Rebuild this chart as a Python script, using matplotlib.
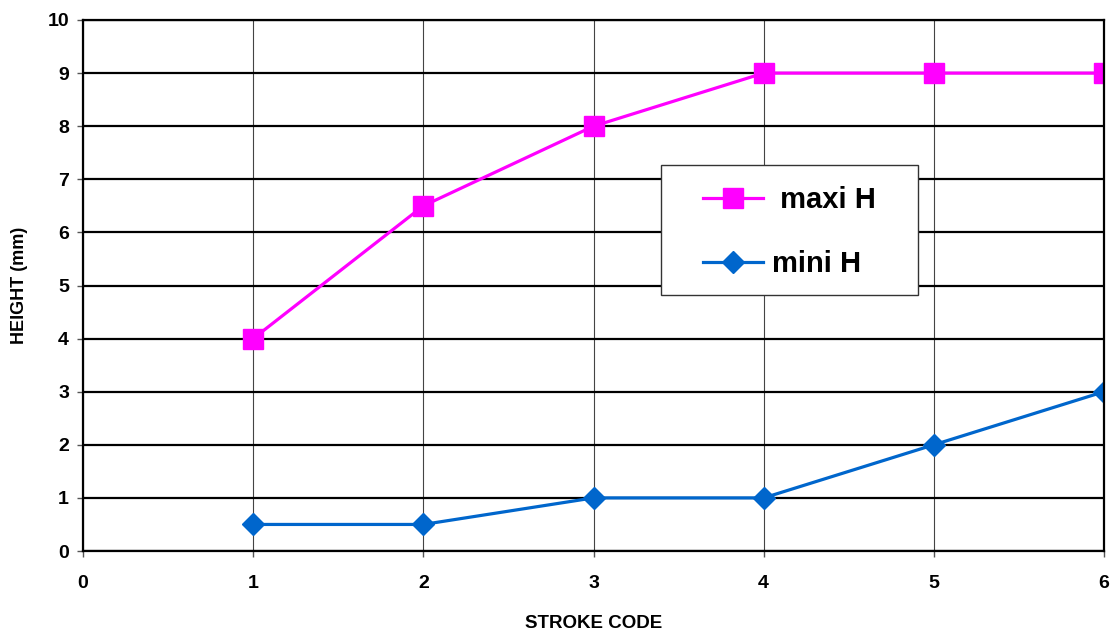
import matplotlib
matplotlib.use("Agg")
import matplotlib.pyplot as plt
from matplotlib.patches import Rectangle

plt.rcParams['font.family'] = ['Liberation Sans', 'DejaVu Sans']

stroke_code = [1, 2, 3, 4, 5, 6]
maxi_h = [4, 6.5, 8, 9, 9, 9]
mini_h = [0.5, 0.5, 1, 1, 2, 3]

W, H = 1112, 634
L, R, T, B = 83, 1104, 20, 551   # plot area in pixels

fig = plt.figure(figsize=(W / 100, H / 100), dpi=100)
ax = fig.add_axes([L / W, 1 - B / H, (R - L) / W, (B - T) / H])

ax.plot(stroke_code, maxi_h, color='#ff00ff', lw=2.3, marker='s', ms=15, label=' maxi H')
ax.plot(stroke_code, mini_h, color='#0066cc', lw=2.3, marker='D', ms=11, label='mini H')

ax.set_xlim(0, 6)
ax.set_ylim(0, 10)
ax.set_xticks(range(0, 7))
ax.set_yticks(range(0, 11))

# horizontal grid thick black, vertical grid thin grey
ax.yaxis.grid(True, color='black', lw=1.6)
ax.xaxis.grid(True, color='#444444', lw=0.8)
ax.set_axisbelow(True)

for s in ax.spines.values():
    s.set_linewidth(1.6)
    s.set_color('black')

ax.tick_params(axis='both', direction='out', length=4, width=1, color='#555555',
               labelsize=14)
ax.tick_params(axis='x', pad=13)
ax.tick_params(axis='y', pad=6)
for lbl in ax.get_xticklabels() + ax.get_yticklabels():
    lbl.set_fontweight('bold')

ax.set_xlabel('STROKE CODE', fontsize=13.5, fontweight='bold', labelpad=17)
ax.set_ylabel('HEIGHT (mm)', fontsize=13, fontweight='bold', labelpad=14)


def px2ax(x, y):
    return (x - L) / (R - L), (B - y) / (B - T)


# legend frame drawn by hand so the padding matches the reference
bx0, by0 = px2ax(661, 295)
bx1, by1 = px2ax(918, 165)
ax.add_patch(Rectangle((bx0, by0), bx1 - bx0, by1 - by0, transform=ax.transAxes,
                       facecolor='white', edgecolor='#333333', lw=1.0, zorder=4))

lx, ly = px2ax(703, 232)
leg = ax.legend(loc='center left', bbox_to_anchor=(lx, ly), frameon=False,
                prop={'weight': 'bold', 'size': 21}, handlelength=2.05,
                labelspacing=1.24, borderpad=0, borderaxespad=0, handletextpad=0.3)
leg.set_zorder(5)

fig.savefig('out.png', dpi=100)
